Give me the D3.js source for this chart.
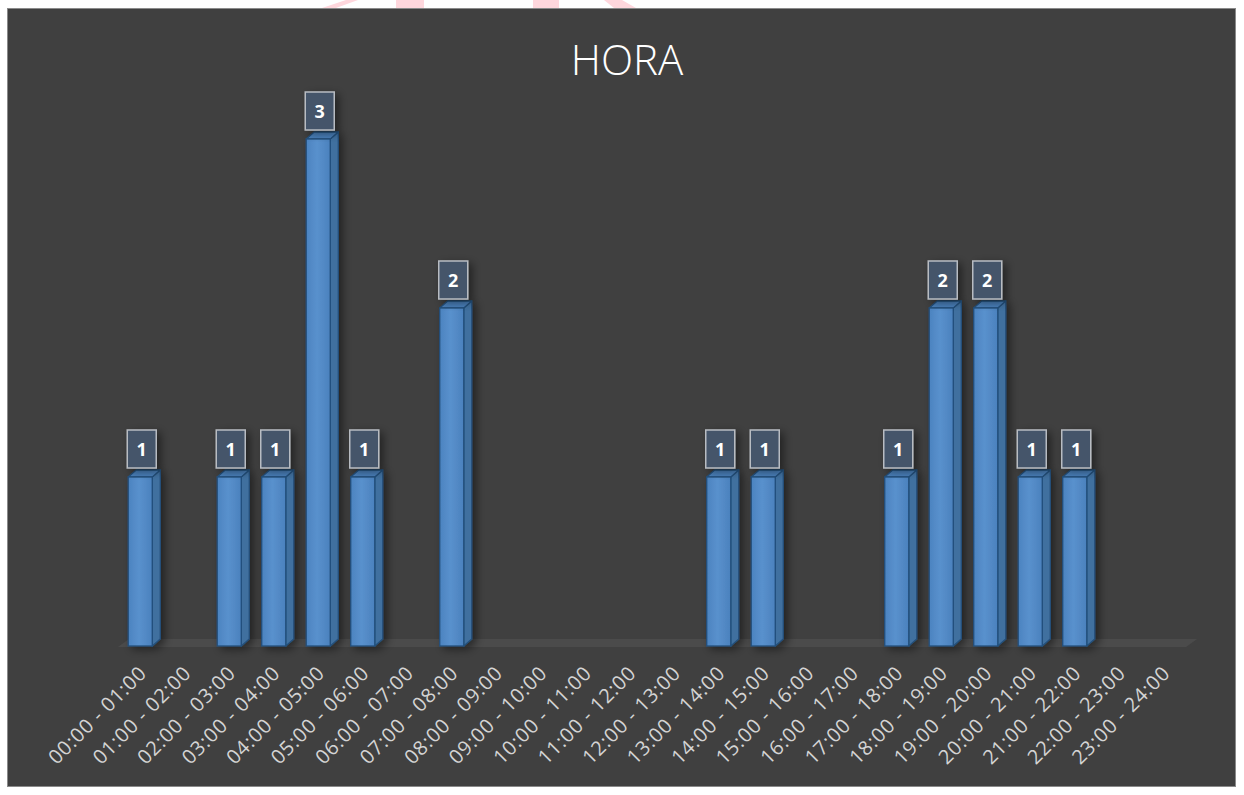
<!DOCTYPE html>
<html>
<head>
<meta charset="utf-8">
<script src="https://cdn.jsdelivr.net/npm/d3@7"></script>
<style>
  body { margin: 0; background: #fff; }
  text { font-family: "Open Sans", "Noto Sans", sans-serif; }
</style>
</head>
<body>
<svg id="chart" width="1244" height="795"></svg>
<script>
const title = "HORA"
const categories = [
    "00:00 - 01:00", "01:00 - 02:00", "02:00 - 03:00", "03:00 - 04:00",
    "04:00 - 05:00", "05:00 - 06:00", "06:00 - 07:00", "07:00 - 08:00",
    "08:00 - 09:00", "09:00 - 10:00", "10:00 - 11:00", "11:00 - 12:00",
    "12:00 - 13:00", "13:00 - 14:00", "14:00 - 15:00", "15:00 - 16:00",
    "16:00 - 17:00", "17:00 - 18:00", "18:00 - 19:00", "19:00 - 20:00",
    "20:00 - 21:00", "21:00 - 22:00", "22:00 - 23:00", "23:00 - 24:00"
]
const values = [1, 0, 1, 1, 3, 1, 0, 2, 0, 0, 0, 0, 0, 1, 1, 0, 0, 1, 2, 2, 1, 1, 0, 0]

const svg = d3.select("#chart")
const depthX = 8, depthY = 7

// watermark bits peeking over the top edge
const wm = [
    [[346, 0], [358, 0], [336, 8], [322, 8]],
    [[396, 0], [424, 0], [424, 8], [396, 8]],
    [[533, 0], [559, 0], [559, 8], [533, 8]],
    [[604, 0], [622, 0], [636, 8], [614, 8]]
]
svg.selectAll(".wm").data(wm).join("polygon")
    .attr("points", d => d.map(p => p.join(",")).join(" "))
    .attr("fill", "#ffd7dd")

const defs = svg.append("defs")
const grad = defs.append("linearGradient").attr("id", "front")
grad.append("stop").attr("offset", "0%").attr("stop-color", "#4c83c0")
grad.append("stop").attr("offset", "45%").attr("stop-color", "#5991cd")
grad.append("stop").attr("offset", "100%").attr("stop-color", "#4b81bd")

const shadow = defs.append("filter").attr("id", "shadow")
    .attr("x", "-30%").attr("y", "-30%").attr("width", "180%").attr("height", "160%")
shadow.append("feDropShadow")
    .attr("dx", 4).attr("dy", 3).attr("stdDeviation", 4)
    .attr("flood-color", "#000").attr("flood-opacity", 0.45)

// chart area
svg.append("rect")
    .attr("x", 7.5).attr("y", 8.5).attr("width", 1228).attr("height", 778)
    .attr("fill", "#404040").attr("stroke", "#8a8a8a")

svg.append("text")
    .attr("x", 627).attr("y", 75)
    .attr("text-anchor", "middle")
    .attr("font-size", 42).attr("font-weight", 300)
    .attr("fill", "#ffffff")
    .text(title)

const x = d3.scaleBand()
    .domain(categories)
    .range([118, 1186])
    .paddingInner(0.46)
    .paddingOuter(0.23)

const y = d3.scaleLinear().domain([0, 3]).range([646, 139])

// floor
const fl = x.range()
svg.append("polygon")
    .attr("points", [[fl[0], 647], [fl[1], 647], [fl[1] + 11, 639], [fl[0] + 11, 639]].map(p => p.join(",")).join(" "))
    .attr("fill", "#4b4b4b")

const data = categories.map((c, i) => ({ cat: c, value: values[i] })).filter(d => d.value > 0)
const bw = x.bandwidth()

const bars = svg.append("g").selectAll("g").data(data).join("g")
    .attr("filter", "url(#shadow)")

bars.append("path")
    .attr("d", d => {
        const x0 = x(d.cat) + bw, yt = y(d.value), yb = y(0)
        return `M${x0},${yb}L${x0},${yt}L${x0 + depthX},${yt - depthY}L${x0 + depthX},${yb - depthY}Z`
    })
    .attr("fill", "#41709f").attr("stroke", "#23507c").attr("stroke-width", 1.3)
    .attr("stroke-linejoin", "round")

bars.append("path")
    .attr("d", d => {
        const x0 = x(d.cat), yt = y(d.value)
        return `M${x0},${yt}L${x0 + depthX},${yt - depthY}L${x0 + bw + depthX},${yt - depthY}L${x0 + bw},${yt}Z`
    })
    .attr("fill", "#4a7fb9").attr("stroke", "#23507c").attr("stroke-width", 1.3)
    .attr("stroke-linejoin", "round")

bars.append("rect")
    .attr("x", d => x(d.cat))
    .attr("y", d => y(d.value))
    .attr("width", bw)
    .attr("height", d => y(0) - y(d.value))
    .attr("fill", "url(#front)").attr("stroke", "#23507c").attr("stroke-width", 1.3)

// data labels
const lab = svg.append("g").selectAll("g").data(data).join("g")
    .attr("transform", d => `translate(${x(d.cat) + bw / 2 + 1.5},${y(d.value) - 9})`)

lab.append("rect")
    .attr("x", -14.5).attr("y", -38).attr("width", 29).attr("height", 38)
    .attr("fill", "#44546a").attr("stroke", "#b8bcc2").attr("stroke-width", 1.5)
    .attr("filter", "url(#shadow)")

lab.append("text")
    .attr("y", -12)
    .attr("text-anchor", "middle")
    .attr("font-size", 18).attr("font-weight", 700)
    .attr("fill", "#ffffff")
    .text(d => d.value)

// x axis labels
svg.append("g").selectAll("text").data(categories).join("text")
    .attr("transform", d => `translate(${x(d) + bw / 2 + 7},${675}) rotate(-45)`)
    .attr("text-anchor", "end")
    .attr("font-size", 20)
    .attr("fill", "#d4d4d4")
    .attr("textLength", 128)
    .attr("lengthAdjust", "spacing")
    .text(d => d)
</script>
</body>
</html>
